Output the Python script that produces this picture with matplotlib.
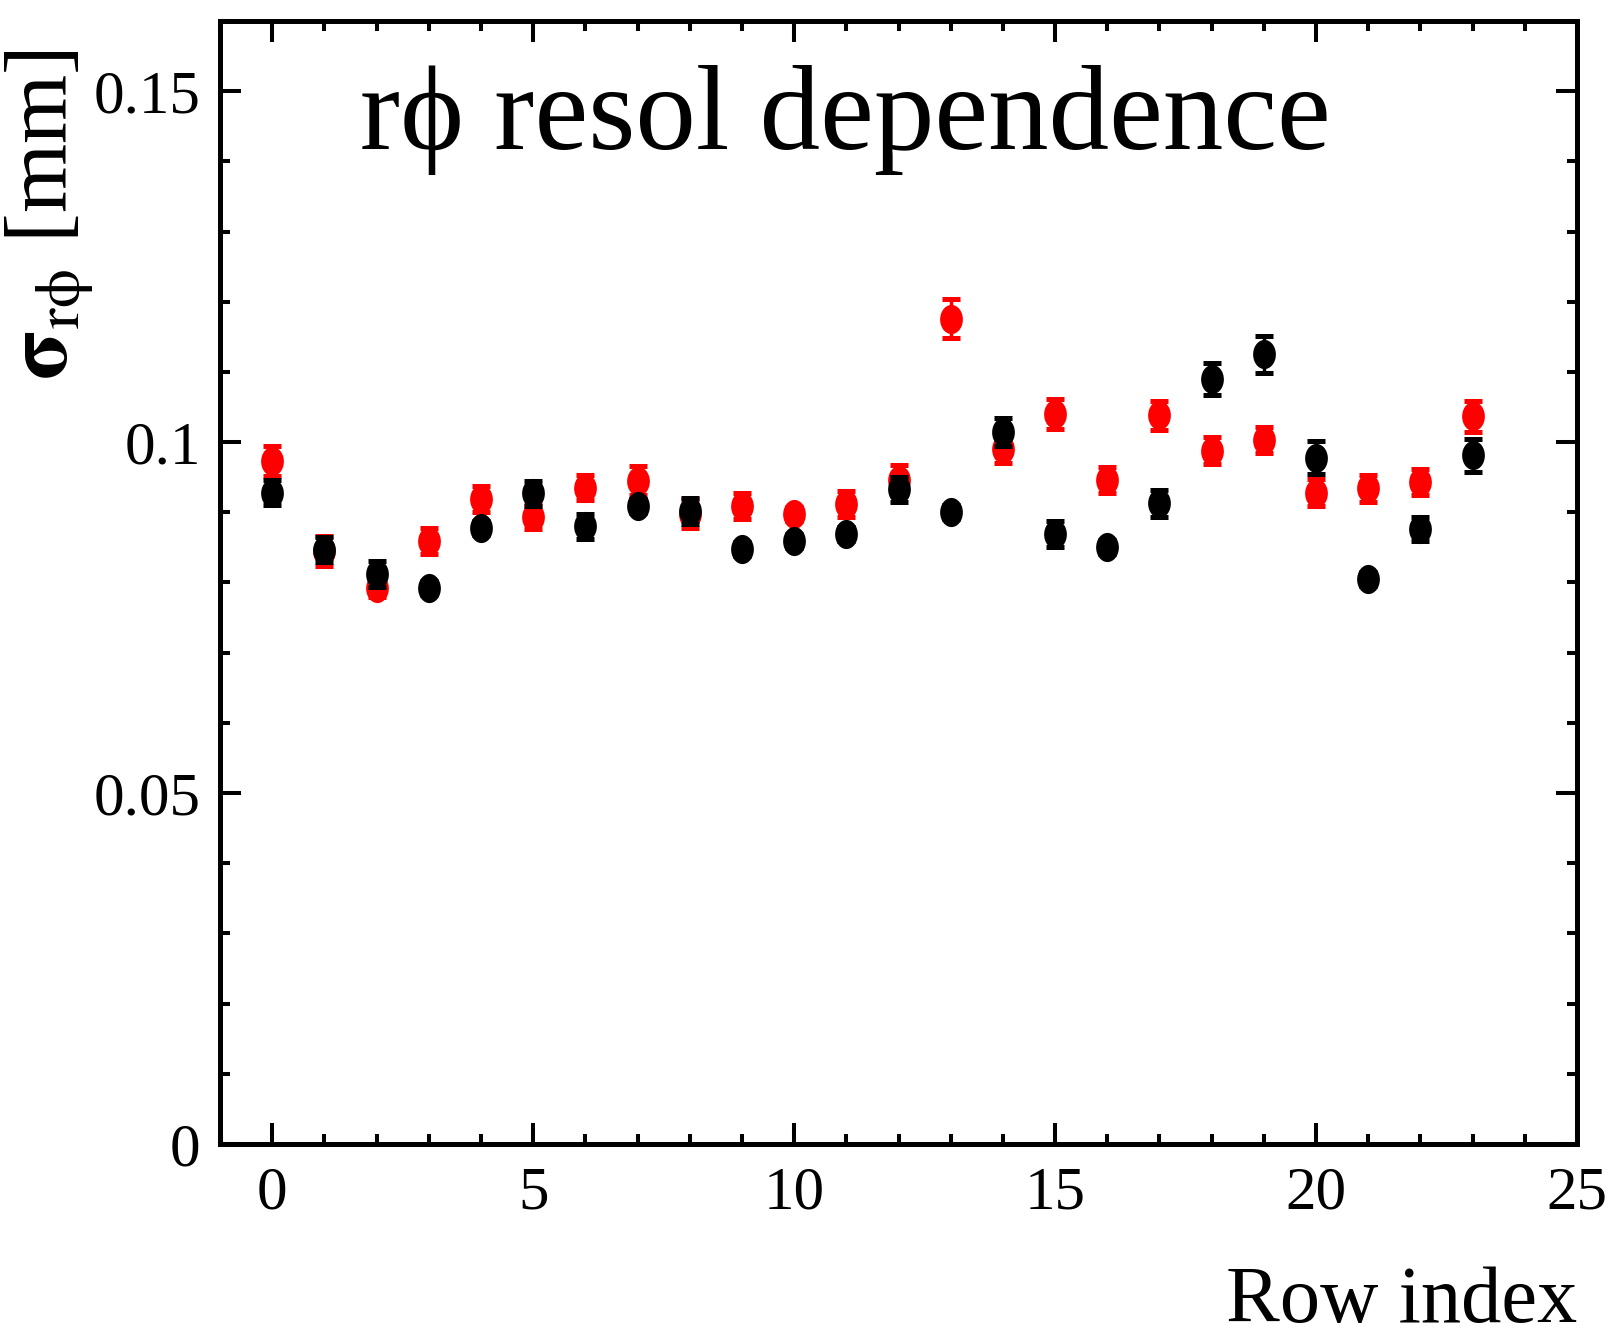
import numpy as np
import matplotlib
matplotlib.use('Agg')
from matplotlib import pyplot as plt
from matplotlib.path import Path
from matplotlib.transforms import Affine2D
from matplotlib.ticker import MultipleLocator, FuncFormatter

plt.rcParams['font.family'] = ['Liberation Serif', 'STIXGeneral', 'DejaVu Serif']
plt.rcParams['mathtext.fontset'] = 'stix'
plt.rcParams['mathtext.default'] = 'rm'

# resolution per pad row, two data sets
rows = list(range(24))
red_sigma = [0.0973, 0.0845, 0.0792, 0.0859, 0.0919, 0.0893, 0.0935, 0.0945,
             0.0898, 0.0909, 0.0898, 0.0912, 0.0946, 0.1176, 0.0990, 0.1040,
             0.0946, 0.1038, 0.0988, 0.1003, 0.0928, 0.0934, 0.0943, 0.1037]
red_err = [0.0021, 0.0021, 0.0012, 0.0018, 0.0018, 0.0017, 0.0018, 0.0021,
           0.0021, 0.0018, 0.0010, 0.0018, 0.0021, 0.0028, 0.0020, 0.0021,
           0.0018, 0.0021, 0.0019, 0.0019, 0.0019, 0.0019, 0.0019, 0.0022]
black_sigma = [0.0928, 0.0847, 0.0812, 0.0792, 0.0877, 0.0927, 0.0880, 0.0909,
               0.0902, 0.0848, 0.0859, 0.0869, 0.0933, 0.0901, 0.1014, 0.0869,
               0.0850, 0.0913, 0.1090, 0.1125, 0.0978, 0.0805, 0.0876, 0.0981]
black_err = [0.0018, 0.0018, 0.0018, 0.0010, 0.0010, 0.0018, 0.0018, 0.0010,
             0.0018, 0.0010, 0.0010, 0.0010, 0.0018, 0.0010, 0.0020, 0.0018,
             0.0010, 0.0019, 0.0023, 0.0026, 0.0024, 0.0010, 0.0017, 0.0023]

# slightly narrow filled ellipse as the point marker
ellipse = Path.unit_circle().transformed(Affine2D().scale(0.78, 1.0))

fig = plt.figure(figsize=(16.13, 13.40), dpi=100)
ax = fig.add_axes([0.1364, 0.1463, 0.8413, 0.8380])

for vals, errs, col, z in [(red_sigma, red_err, 'red', 2), (black_sigma, black_err, 'black', 4)]:
    ax.errorbar(rows, vals, yerr=errs, fmt='none', ecolor=col, elinewidth=2.5,
                capsize=6.5, capthick=3.6, zorder=z)
    ax.plot(rows, vals, linestyle='none', marker=ellipse, markersize=21,
            color=col, markeredgewidth=0, zorder=z + 1)

ax.set_xlim(-1, 25)
ax.set_ylim(0, 0.16)
ax.xaxis.set_major_locator(MultipleLocator(5))
ax.xaxis.set_minor_locator(MultipleLocator(1))
ax.yaxis.set_major_locator(MultipleLocator(0.05))
ax.yaxis.set_minor_locator(MultipleLocator(0.01))
fmt = FuncFormatter(lambda v, p: '%g' % round(v, 4))
ax.xaxis.set_major_formatter(fmt)
ax.yaxis.set_major_formatter(fmt)

ax.tick_params(which='both', direction='in', top=True, right=True, width=2.9)
ax.tick_params(which='major', length=15)
ax.tick_params(which='minor', length=7)
ax.tick_params(axis='x', which='major', labelsize=44, pad=16)
ax.tick_params(axis='y', which='major', labelsize=44, pad=14)
for s in ax.spines.values():
    s.set_linewidth(3.6)

ax.text(0.103, 0.886, 'r\u03d5 resol dependence', transform=ax.transAxes,
        fontsize=87, ha='left', va='baseline')

ax.set_xlabel('Row index', fontsize=58, loc='right', labelpad=32)
fig.text(0.031, 0.9627, r'$\mathbf{\sigma}_{\mathrm{r}\phi}$ [mm]', rotation=90,
         fontsize=64, ha='center', va='top')

plt.savefig('out.png', dpi=100)
